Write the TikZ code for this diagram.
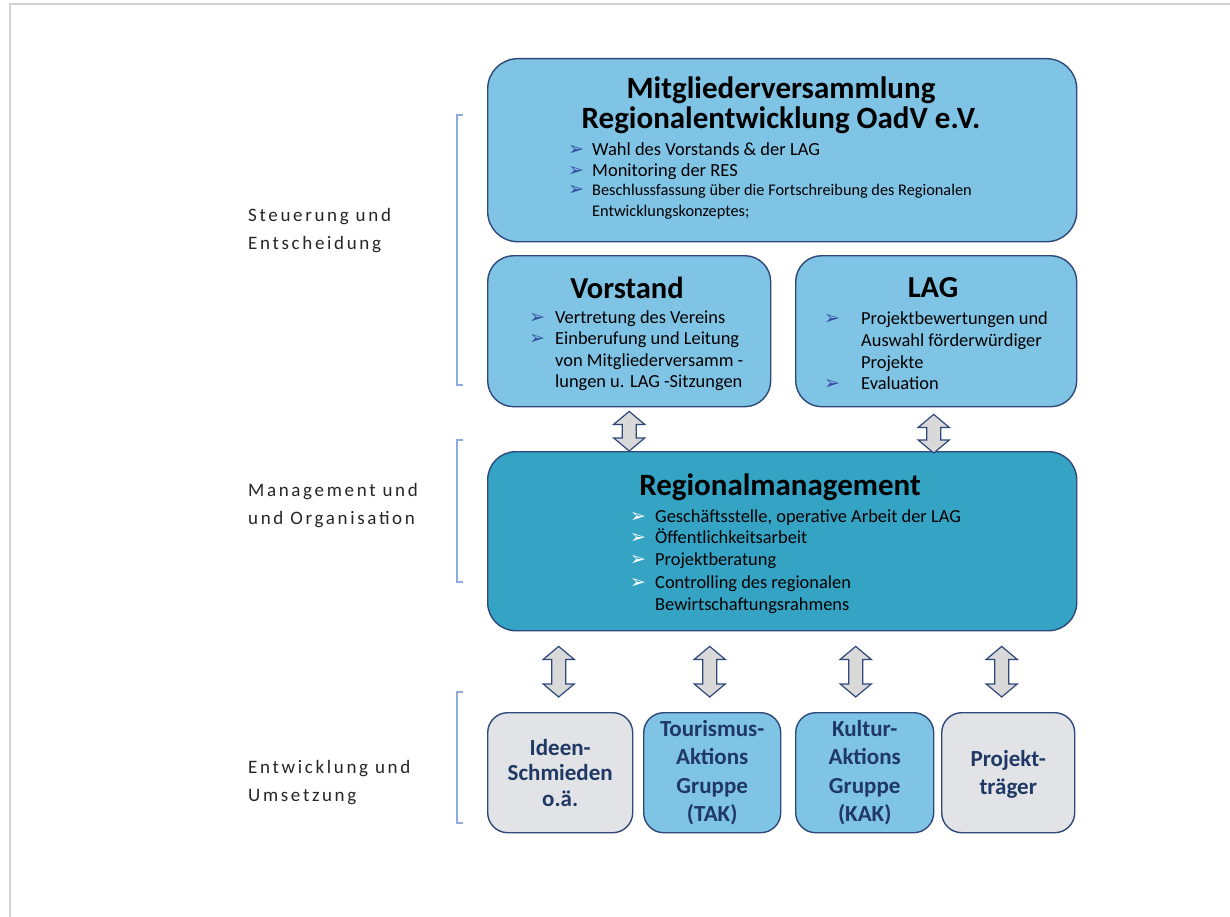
\documentclass[tikz,border=0pt]{standalone}
\usepackage{fontspec}
\setmainfont{Carlito}
\newfontfamily\dejavu{DejaVu Sans}
\newfontfamily\lblfont[LetterSpace=14]{Carlito}
\usetikzlibrary{calc}
\definecolor{lb}{RGB}{127,195,229}
\definecolor{teal}{RGB}{52,163,196}
\definecolor{gbox}{RGB}{226,227,231}
\definecolor{navy}{RGB}{47,72,122}
\definecolor{arrfill}{RGB}{217,217,217}
\definecolor{brk}{RGB}{143,170,220}
\definecolor{btxt}{RGB}{31,56,100}
\definecolor{bulnavy}{RGB}{52,80,160}
\definecolor{framecol}{RGB}{210,210,210}
\newcommand\blockarrow[2]{%
  \draw[arr] let \p1=(#1), \p2=(#2) in
    (\x1,\y1) -- (\x1+15.5pt,\y1-13pt) -- (\x1+7pt,\y1-13pt) -- (\x1+7pt,\y2+13pt)
    -- (\x1+15.5pt,\y2+13pt) -- (\x1,\y2) -- (\x1-15.5pt,\y2+13pt) -- (\x1-7pt,\y2+13pt)
    -- (\x1-7pt,\y1-13pt) -- (\x1-15.5pt,\y1-13pt) -- cycle;}
\begin{document}
\begin{tikzpicture}[x=1pt,y=-1pt,
  box/.style={draw=navy, line width=1.4pt, anchor=north west, inner sep=0pt},
  arr/.style={draw=navy, fill=arrfill, line width=1.2pt, line join=miter},
  ln/.style={anchor=base west, inner sep=0pt},
  bul/.style={anchor=base west, inner sep=0pt, text=bulnavy, font=\dejavu\fontsize{19}{19}\selectfont},
  wbul/.style={bul, text=white},
  title/.style={inner sep=0pt, font=\bfseries\fontsize{31}{31}\selectfont},
  btext/.style={inner sep=0pt, align=center, text=btxt},
  lbl/.style={anchor=north west, inner sep=0pt, align=left, font=\lblfont\fontsize{19}{28.5}\selectfont, text=black!85},
  brack/.style={draw=brk, line width=1.4pt}]
\useasboundingbox (0,0) rectangle (1230,917);
\fill[white] (0,0) rectangle (1230,917);
\draw[framecol, line width=1.5pt] (10,917) -- (10,4) -- (1230,4);

% boxes
\node[box, fill=lb, rounded corners=30pt, minimum width=589pt, minimum height=183pt] (mv) at (487,58) {};
\node[box, fill=lb, rounded corners=26pt, minimum width=283pt, minimum height=151pt] (vs) at (487,255) {};
\node[box, fill=lb, rounded corners=26pt, minimum width=281pt, minimum height=151pt] (lag) at (795,255) {};
\node[box, fill=teal, rounded corners=28pt, minimum width=589pt, minimum height=179pt] (rm) at (487,451) {};
\node[box, fill=gbox, rounded corners=20pt, minimum width=145pt, minimum height=120pt] (ib) at (487,712) {};
\node[box, fill=lb, rounded corners=20pt, minimum width=137pt, minimum height=120pt] (tak) at (643,712) {};
\node[box, fill=lb, rounded corners=20pt, minimum width=138pt, minimum height=120pt] (kak) at (795,712) {};
\node[box, fill=gbox, rounded corners=20pt, minimum width=133pt, minimum height=120pt] (pt) at (941,712) {};

% Mitgliederversammlung
\node[title] (mvt1) at (781,90) {Mitgliederversammlung};
\node[title] (mvt2) at (781,120) {Regionalentwicklung OadV e.V.};
\node[bul] (mvb1) at (568,156) {➢};
\node[ln, font=\fontsize{18.5}{18.5}\selectfont] (mvl1) at (592,156) {Wahl des Vorstands \& der LAG};
\node[bul] (mvb2) at (568,177) {➢};
\node[ln, font=\fontsize{18.5}{18.5}\selectfont] (mvl2) at (592,177) {Monitoring der RES};
\node[bul] (mvb3) at (568,196) {➢};
\node[ln, font=\fontsize{16.3}{16.3}\selectfont] (mvl3) at (592,196) {Beschlussfassung über die Fortschreibung des Regionalen};
\node[ln, font=\fontsize{16.3}{16.3}\selectfont] (mvl4) at (592,217) {Entwicklungskonzeptes;};

% Vorstand
\node[title, font=\bfseries\fontsize{30.5}{30.5}\selectfont] (vst) at (627,288) {Vorstand};
\node[bul] (vsb1) at (529,323) {➢};
\node[ln, font=\fontsize{18.4}{18.4}\selectfont] (vsl1) at (555,323) {Vertretung des Vereins};
\node[bul] (vsb2) at (529,344) {➢};
\node[ln, font=\fontsize{18.4}{18.4}\selectfont] (vsl2) at (555,344) {Einberufung und Leitung};
\node[ln, font=\fontsize{18.4}{18.4}\selectfont] (vsl3) at (555,366) {von Mitgliederversamm -};
\node[ln, font=\fontsize{18.4}{18.4}\selectfont] (vsl4) at (555,387) {lungen u. LAG -Sitzungen};

% LAG
\node[title, font=\bfseries\fontsize{30.5}{30.5}\selectfont] (lagt) at (933,288) {LAG};
\node[bul] (lagb1) at (824,324.5) {➢};
\node[ln, font=\fontsize{18.4}{18.4}\selectfont] (lagl1) at (861,324.5) {Projektbewertungen und};
\node[ln, font=\fontsize{18.4}{18.4}\selectfont] (lagl2) at (861,346.5) {Auswahl förderwürdiger};
\node[ln, font=\fontsize{18.4}{18.4}\selectfont] (lagl3) at (861,368.5) {Projekte};
\node[bul] (lagb2) at (824,389.5) {➢};
\node[ln, font=\fontsize{18.4}{18.4}\selectfont] (lagl4) at (861,389.5) {Evaluation};

% Regionalmanagement
\node[title] (rmt) at (780,487) {Regionalmanagement};
\node[wbul] (rmb1) at (630,522.5) {➢};
\node[ln, font=\fontsize{18.4}{18.4}\selectfont] (rml1) at (655,522.5) {Geschäftsstelle, operative Arbeit der LAG};
\node[wbul] (rmb2) at (630,543.5) {➢};
\node[ln, font=\fontsize{18.4}{18.4}\selectfont] (rml2) at (655,543.5) {Öffentlichkeitsarbeit};
\node[wbul] (rmb3) at (630,565.5) {➢};
\node[ln, font=\fontsize{18.4}{18.4}\selectfont] (rml3) at (655,565.5) {Projektberatung};
\node[wbul] (rmb4) at (630,588.5) {➢};
\node[ln, font=\fontsize{18.4}{18.4}\selectfont] (rml4) at (655,588.5) {Controlling des regionalen};
\node[ln, font=\fontsize{18.4}{18.4}\selectfont] (rml5) at (655,610.5) {Bewirtschaftungsrahmens};

% bottom texts
\node[btext, font=\bfseries\fontsize{23}{25.5}\selectfont] (ibt) at (ib.center) {Ideen-\\Schmieden\\o.ä.};
\node[btext, font=\bfseries\fontsize{23}{28.3}\selectfont] (takt) at (tak.center) {Tourismus-\\Aktions\\Gruppe\\(TAK)};
\node[btext, font=\bfseries\fontsize{23}{28.3}\selectfont] (kakt) at (kak.center) {Kultur-\\Aktions\\Gruppe\\(KAK)};
\node[btext, font=\bfseries\fontsize{23}{28}\selectfont] (ptt) at ($(pt.center)+(0,2)$) {Projekt-\\träger};

% arrows
\coordinate (a1t) at ($(vs.south)+(0,4)$);
\coordinate (a1b) at (vs.south |- rm.north);
\blockarrow{a1t}{a1b}
\coordinate (a2t) at ($(lag.south)+(-2.5,7)$);
\coordinate (a2b) at ($(lag.south |- rm.north)+(-2.5,2)$);
\blockarrow{a2t}{a2b}
\coordinate (a3t) at ($(rm.south -| ib.north)+(-1.5,15)$);
\coordinate (a3b) at ($(ib.north)+(-1.5,-15)$);
\blockarrow{a3t}{a3b}
\coordinate (a4t) at ($(rm.south -| tak.north)+(-2.5,15)$);
\coordinate (a4b) at ($(tak.north)+(-2.5,-15)$);
\blockarrow{a4t}{a4b}
\coordinate (a5t) at ($(rm.south -| kak.north)+(-9,15)$);
\coordinate (a5b) at ($(kak.north)+(-9,-15)$);
\blockarrow{a5t}{a5b}
\coordinate (a6t) at ($(rm.south -| pt.north)+(-6.5,15)$);
\coordinate (a6b) at ($(pt.north)+(-6.5,-15)$);
\blockarrow{a6t}{a6b}

% brackets
\draw[brack] (463,115) -- (457,115) -- (457,385) -- (463,385);
\draw[brack] (463,440) -- (457,440) -- (457,582) -- (463,582);
\draw[brack] (463,692) -- (457,692) -- (457,823) -- (463,823);

% labels
\node[lbl] (l1) at (248,208) {Steuerung und\\Entscheidung};
\node[lbl] (l2) at (248,483) {Management und\\und Organisation};
\node[lbl] (l3) at (248,760) {Entwicklung und\\Umsetzung};
\end{tikzpicture}
\end{document}
